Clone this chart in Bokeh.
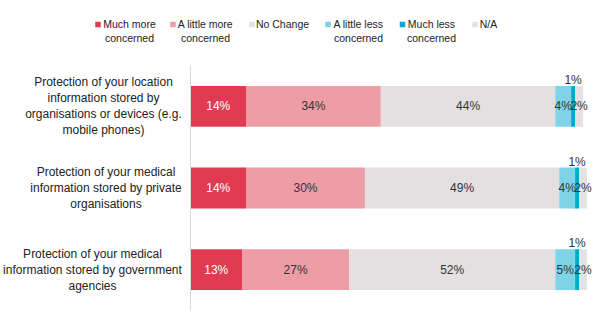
from bokeh.plotting import figure
from bokeh.models import ColumnDataSource, Range1d
from bokeh.core.properties import value
from bokeh.embed import file_html
from bokeh.resources import INLINE

# ---------------- data ----------------
categories = [
    "Protection of your location\ninformation stored by\norganisations or devices (e.g.\nmobile phones)",
    "Protection of your medical\ninformation stored by private\norganisations",
    "Protection of your medical\ninformation stored by government\nagencies",
]
series_names = ["Much more\nconcerned", "A little more\nconcerned", "No Change",
                "A little less\nconcerned", "Much less\nconcerned", "N/A"]
much_more = [14, 14, 13]
little_more = [34, 30, 27]
no_change = [44, 49, 52]
little_less = [4, 4, 5]
much_less = [1, 1, 1]
not_applicable = [2, 2, 2]
series_values = [much_more, little_more, no_change, little_less, much_less, not_applicable]

# ---------------- style / layout ----------------
colors = ["#E03B51", "#EE9DA6", "#E4DFE1", "#7ED4E6", "#00A9D1", "#E6E1E3"]
label_colors = ["white", "#333333", "#333333", "#333333", "#333333", "#333333"]
FONT = value("Liberation Sans")
W, H = 600, 325
X0_PX = 190.0       # pixel of 0 %
PX_PER_PCT = 3.965
TOP_PX = 65.0       # top of category area
BAND_PX = 81.67     # height of one category band
BAR_H = 0.5

def sx(px):
    return (px - X0_PX) / PX_PER_PCT

def sy(py):
    return (py - TOP_PX) / BAND_PX

cat_label_px = [103, 105.5, 92]
legend_marker_px = [97.5, 172.5, 251.5, 327.5, 402, 474.5]
legend_text_px = [129, 205, 282, 358, 431, 488]

p = figure(width=W, height=H, output_backend="svg", toolbar_location=None,
           x_range=Range1d(sx(0), sx(W)), y_range=Range1d(sy(H), sy(0)),
           x_axis_location=None, y_axis_location=None, min_border=0,
           background_fill_color="white", border_fill_color="white")
p.outline_line_color = None
p.xgrid.visible = False
p.ygrid.visible = False

ycent = [i + 0.5 for i in range(len(categories))]

# stacked bars
data = {"y": ycent}
keys = []
for k, vals in enumerate(series_values):
    key = f"s{k}"
    data[key] = vals
    keys.append(key)
src = ColumnDataSource(data)
p.hbar_stack(keys, y="y", height=BAR_H, color=colors, line_color=None, source=src)

# vertical axis line
p.segment(x0=[0], y0=[sy(TOP_PX)], x1=[0], y1=[len(categories)], line_color="#D9D9D9", line_width=1)

# segment value labels
for k, vals in enumerate(series_values):
    xs, ys, ts = [], [], []
    xa, ya, ta = [], [], []
    for i, v in enumerate(vals):
        left = sum(series_values[j][i] for j in range(k))
        c = left + v / 2.0
        if v <= 1:
            xa.append(c); ya.append(ycent[i] - BAR_H / 2 + 0.015); ta.append(f"{v}%")
        else:
            xs.append(c); ys.append(ycent[i]); ts.append(f"{v}%")
    if xs:
        p.text(x=xs, y=ys, text=ts, text_font=FONT, text_font_size="12px",
               text_color=label_colors[k], text_align="center", text_baseline="middle")
    if xa:
        p.text(x=xa, y=ya, text=ta, text_font=FONT, text_font_size="12px",
               text_color="#333333", text_align="center", text_baseline="bottom")

# category labels
p.text(x=[sx(v) for v in cat_label_px], y=ycent, text=categories, text_font=FONT,
       text_font_size="12px", text_color="#222222", text_align="center",
       text_baseline="middle", text_line_height=1.15)

# legend
p.scatter(x=[sx(v) for v in legend_marker_px], y=[sy(24)] * len(series_names),
          marker="square", size=5.5, color=colors, line_color=None)
p.text(x=[sx(v) for v in legend_text_px], y=[sy(17.5)] * len(series_names), text=series_names,
       text_font=FONT, text_font_size="10.5px", text_color="#222222",
       text_align="center", text_baseline="top", text_line_height=1.2)

open("out.html", "w").write(file_html(p, INLINE))
